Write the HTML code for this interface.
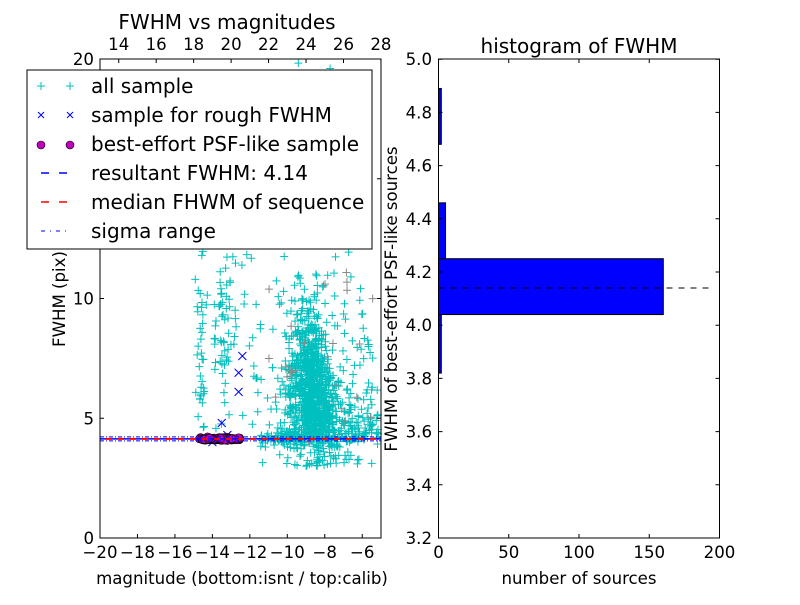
<!DOCTYPE html>
<html><head><meta charset="utf-8"><style>
body{margin:0;background:#fff}
svg text{font-family:"DejaVu Sans","Liberation Sans",sans-serif;fill:#000}
</style></head><body>
<svg id="s" width="800" height="600" xmlns="http://www.w3.org/2000/svg">
<rect width="800" height="600" fill="#fff"/>
<g id="pts"></g>
<g id="fg"></g>
</svg>
<script>
var NS="http://www.w3.org/2000/svg";
var pts=document.getElementById('pts'),fg=document.getElementById('fg');
function el(p,t,a,txt){var e=document.createElementNS(NS,t);for(var k in a)e.setAttribute(k,a[k]);if(txt!=null)e.textContent=txt;p.appendChild(e);return e;}
var seed=12345;function r(){seed=(seed*1103515245+12345)%2147483648;return seed/2147483648;}
function g(){return Math.sqrt(-2*Math.log(r()+1e-9))*Math.cos(6.2832*r());}
function X(v){return 100+(v+20)*18.73;}function Y(v){return 538-v*23.95;}
var d="";
function plus(x,y){if(x<101||x>380||y<60||y>537)return;d+="M"+(x-4)+" "+y+"h8M"+x+" "+(y-4)+"v8";}
var i,x,y,v;
for(i=0;i<800;i++){x=-8.5+g()*0.6;y=4+Math.abs(g())*2+r()*r()*3;plus(X(x-(y-4)*0.08),Y(y));}
for(i=0;i<200;i++){x=-8.7+g()*1.2;y=3.8+r()*r()*9;plus(X(x),Y(y));}
for(i=0;i<220;i++){x=-11.5+r()*6.4;y=4.15+g()*0.15+(x>-9?r()*r()*2.5:0);plus(X(x),Y(y));}
for(i=0;i<70;i++){x=-8+g()*1.0;y=3+r()*1.2;plus(X(x),Y(y));}
for(i=0;i<35;i++){x=-14.6+g()*0.12;y=4.5+r()*7.5;plus(X(x),Y(y));}
for(i=0;i<40;i++){x=-13.4+g()*0.25;y=4.5+r()*7.5;plus(X(x),Y(y));}
for(i=0;i<25;i++){x=-13+g()*0.5;y=8+r()*4;plus(X(x),Y(y));}
for(i=0;i<60;i++){x=-12.5+r()*7;y=5+r()*7;plus(X(x),Y(y));}
for(i=0;i<12;i++){x=-10+r()*3;y=12+r()*8;plus(X(x),Y(y));}
el(pts,'path',{d:d,stroke:'#00bfbf','stroke-width':1,fill:'none'});
d="";for(i=0;i<25;i++){x=-11+r()*6;y=3.5+r()*8;plus(X(x),Y(y));}
el(pts,'path',{d:d,stroke:'#888','stroke-width':1,fill:'none'});
var bx=[[-12.4,7.6],[-12.6,6.9],[-12.6,6.1],[-13.5,4.8],[-14,4],[-13.2,4.3]];d="";
bx.forEach(function(p){var a=X(p[0]),b=Y(p[1]);d+="M"+(a-4)+" "+(b-4)+"l8 8M"+(a-4)+" "+(b+4)+"l8 -8";});
el(pts,'path',{d:d,stroke:'#0000ff','stroke-width':1,fill:'none'});
for(i=0;i<160;i++){x=-14.7+r()*2.2;y=4.14+g()*0.03;el(pts,'circle',{cx:X(x),cy:Y(y),r:4,fill:'#bf00bf',stroke:'#000','stroke-width':0.6});}
var yl=Y(4.14);
el(pts,'line',{x1:100,x2:381,y1:yl-2,y2:yl-2,stroke:'#0000ff','stroke-width':1,'stroke-dasharray':'4,2,1,2'});
el(pts,'line',{x1:100,x2:381,y1:yl+2,y2:yl+2,stroke:'#0000ff','stroke-width':1,'stroke-dasharray':'4,2,1,2'});
el(pts,'line',{x1:100,x2:381,y1:yl,y2:yl,stroke:'#0000ff','stroke-width':1.5,'stroke-dasharray':'6,6'});
el(pts,'line',{x1:106,x2:381,y1:yl,y2:yl,stroke:'#ff0000','stroke-width':2,'stroke-dasharray':'6,6'});
el(fg,'rect',{x:100,y:59,width:281,height:479,fill:'none',stroke:'#000','stroke-width':1});
for(v=-20;v<=-6;v+=2){x=X(v);el(fg,'path',{d:"M"+x+" 538v-4",stroke:'#000'});el(fg,'text',{x:x,y:558,'font-size':16.6,'text-anchor':'middle'},"\u2212"+(-v));}
for(v=14;v<=28;v+=2){x=X(v-33);el(fg,'path',{d:"M"+x+" 59v4",stroke:'#000'});el(fg,'text',{x:x,y:50,'font-size':16.6,'text-anchor':'middle'},v);}
[0,5,10,15,20].forEach(function(v){y=Y(v);el(fg,'path',{d:"M100 "+y+"h4M381 "+y+"h-4",stroke:'#000'});el(fg,'text',{x:94,y:y+6,'font-size':16.6,'text-anchor':'end'},v);});
el(fg,'text',{x:227,y:29,'font-size':20,'text-anchor':'middle'},"FWHM vs magnitudes");
el(fg,'text',{x:242,y:584,'font-size':16.6,'text-anchor':'middle'},"magnitude (bottom:isnt / top:calib)");
el(fg,'text',{x:0,y:0,'font-size':16.6,'text-anchor':'middle',transform:'translate(65 299) rotate(-90)'},"FWHM (pix)");
el(fg,'rect',{x:27,y:70,width:345,height:179,fill:'#fff',stroke:'#000'});
var L=[["all sample",93],["sample for rough FWHM",122],["best-effort PSF-like sample",151],["resultant FWHM: 4.14",180],["median FHWM of sequence",209],["sigma range",238]];
L.forEach(function(l){el(fg,'text',{x:91,y:l[1],'font-size':20},l[0]);});
var ly;ly=86;el(fg,'path',{d:"M37 "+ly+"h8M41 "+(ly-4)+"v8M66 "+ly+"h8M70 "+(ly-4)+"v8",stroke:'#00bfbf'});
ly=115;el(fg,'path',{d:"M38 "+(ly-3)+"l6 6M38 "+(ly+3)+"l6 -6M67 "+(ly-3)+"l6 6M67 "+(ly+3)+"l6 -6",stroke:'#0000ff'});
ly=145;el(fg,'circle',{cx:41,cy:ly,r:4,fill:'#bf00bf',stroke:'#000','stroke-width':0.6});el(fg,'circle',{cx:70,cy:ly,r:4,fill:'#bf00bf',stroke:'#000','stroke-width':0.6});
el(fg,'path',{d:"M41 173h8M59 173h8",stroke:'#0000ff','stroke-width':1.5});
el(fg,'path',{d:"M41 202h8M59 202h8",stroke:'#ff0000','stroke-width':1.5});
el(fg,'path',{d:"M41 231h4M50 231h1M56 231h4M65 231h1",stroke:'#0000ff'});
function RX(v){return 438.5+v*1.405;}function RY(v){return 538-(v-3.2)*266;}
[[3.82,4.04,2],[4.04,4.25,160],[4.25,4.46,5],[4.68,4.89,2]].forEach(function(b){el(fg,'rect',{x:438.5,y:RY(b[1]),width:b[2]*1.405,height:RY(b[0])-RY(b[1]),fill:'#0000ff',stroke:'#000','stroke-width':1});});
el(fg,'line',{x1:438.5,x2:710,y1:RY(4.14),y2:RY(4.14),stroke:'#000','stroke-dasharray':'6,6'});
el(fg,'rect',{x:438.5,y:59,width:281,height:479,fill:'none',stroke:'#000'});
[0,50,100,150,200].forEach(function(v){x=RX(v);el(fg,'path',{d:"M"+x+" 538v-4M"+x+" 59v4",stroke:'#000'});el(fg,'text',{x:x,y:558,'font-size':16.6,'text-anchor':'middle'},v);});
for(var k=0;k<=9;k++){v=3.2+k*0.2;y=RY(v);el(fg,'path',{d:"M438.5 "+y+"h4M719.5 "+y+"h-4",stroke:'#000'});el(fg,'text',{x:432,y:y+6,'font-size':16.6,'text-anchor':'end'},v.toFixed(1));}
el(fg,'text',{x:579,y:53,'font-size':20,'text-anchor':'middle'},"histogram of FWHM");
el(fg,'text',{x:579,y:584,'font-size':16.6,'text-anchor':'middle'},"number of sources");
el(fg,'text',{x:0,y:0,'font-size':16.6,'text-anchor':'middle',transform:'translate(397 299) rotate(-90)'},"FWHM of best-effort PSF-like sources");
</script>
</body></html>
